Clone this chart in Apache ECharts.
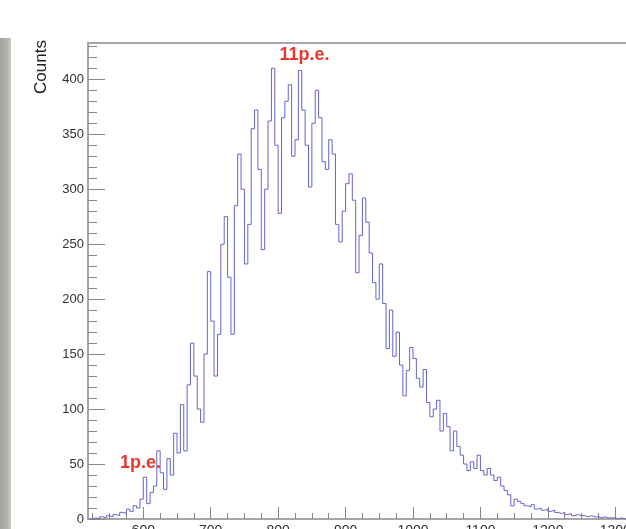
<!DOCTYPE html>
<html>
<head>
<meta charset="utf-8">
<script src="https://cdn.jsdelivr.net/npm/echarts@6/dist/echarts.min.js"></script>
<style>
  html, body { margin: 0; padding: 0; background: #ffffff; }
  #chart { width: 626px; height: 529px; }
</style>
</head>
<body>
<div id="chart"></div>
<script>
// Charge spectrum histogram: fixed-width ADC bins starting at binLow
const binLow = 520;
const binWidth = 5;
const counts = [
  0, 1, 0, 2, 1, 3, 2, 4, 3, 6, 5,
  9, 7, 12, 10,
  18, 38, 14, 24, 30, 62, 42, 27, 55, 40, 78, 60, 104,
  62, 122, 160, 130, 100, 88, 150, 225, 180, 130, 168, 250, 275, 220, 168, 285,
  332, 300, 232, 268, 355, 372, 318, 245, 300, 362, 410, 340, 278, 365, 380, 395, 330,
  345, 408, 372, 340, 302, 360, 390, 365, 325, 318, 345, 332, 268, 252, 280, 305, 314, 290, 224,
  258, 292, 270, 242, 215, 200, 232, 196, 155, 190, 148, 170, 140, 112, 135, 156, 146, 128, 120, 136,
  106, 93, 100, 108, 80, 96, 84, 62, 80, 66, 58, 50, 44, 52, 46, 58, 44, 40, 46, 40,
  35, 38, 30, 26, 22, 12, 18, 16, 14, 12, 11, 13, 9, 10, 8, 9, 7, 8, 6, 5,
  6, 4, 5, 3, 4, 3, 3, 2, 3, 2, 2, 1, 2, 1, 1, 1, 0, 1, 0, 0,
  0, 0, 0, 0, 0, 0
];

// Axis ranges and tick values
const xRange = [518, 1350];
const yRange = [0, 433];
const xMajorTicks = [600, 700, 800, 900, 1000, 1100, 1200, 1300];
const xMinorTicks = [525, 550, 575, 625, 650, 675, 725, 750, 775, 825, 850, 875,
  925, 950, 975, 1025, 1050, 1075, 1125, 1150, 1175, 1225, 1250, 1275, 1325];
const yMajorTicks = [0, 50, 100, 150, 200, 250, 300, 350, 400];
const yMinorTicks = [10, 20, 30, 40, 60, 70, 80, 90, 110, 120, 130, 140, 160, 170, 180, 190,
  210, 220, 230, 240, 260, 270, 280, 290, 310, 320, 330, 340, 360, 370, 380, 390,
  410, 420, 430];

// Peak annotations, placed in data coordinates
const peakNotes = [
  { text: '1p.e.', x: 596, y: 51 },
  { text: '11p.e.', x: 839, y: 422 }
];

// Step points: each bin drawn from its low edge, closed at the last high edge
const stepData = counts.map((c, i) => [binLow + i * binWidth, c]);
stepData.push([binLow + counts.length * binWidth, counts[counts.length - 1]]);

const FONT = "'Liberation Sans', Helvetica, Arial, sans-serif";
const AXIS_GRAY = '#a6a6a6';
const TICK_GRAY = '#8a8a8a';

const chart = echarts.init(document.getElementById('chart'), null, { renderer: 'canvas' });

const option = {
  animation: false,
  backgroundColor: '#ffffff',
  grid: {
    left: 88, top: 43, width: 561, height: 476,
    outerBoundsMode: 'none', containLabel: false,
    show: true, borderColor: AXIS_GRAY, borderWidth: 2, backgroundColor: 'transparent'
  },
  xAxis: [
    {
      type: 'value', min: xRange[0], max: xRange[1], position: 'bottom',
      axisLine: { show: true, onZero: false, lineStyle: { color: AXIS_GRAY, width: 2 } },
      axisTick: { show: true, inside: true, length: 12, customValues: xMajorTicks,
        lineStyle: { color: TICK_GRAY, width: 1 } },
      axisLabel: { show: true, customValues: xMajorTicks, margin: 5, color: '#333',
        fontFamily: FONT, fontSize: 14, formatter: v => String(v) },
      splitLine: { show: false }
    },
    {
      type: 'value', min: xRange[0], max: xRange[1], position: 'bottom',
      axisLine: { show: false },
      axisTick: { show: true, inside: true, length: 6, customValues: xMinorTicks,
        lineStyle: { color: TICK_GRAY, width: 1 } },
      axisLabel: { show: false },
      splitLine: { show: false }
    }
  ],
  yAxis: [
    {
      type: 'value', min: yRange[0], max: yRange[1], position: 'left',
      axisLine: { show: true, onZero: false, lineStyle: { color: AXIS_GRAY, width: 2 } },
      axisTick: { show: true, inside: true, length: 17, customValues: yMajorTicks,
        lineStyle: { color: TICK_GRAY, width: 1 } },
      axisLabel: { show: true, customValues: yMajorTicks, margin: 4, color: '#333',
        fontFamily: FONT, fontSize: 13, formatter: v => String(v) },
      splitLine: { show: false }
    },
    {
      type: 'value', min: yRange[0], max: yRange[1], position: 'left',
      axisLine: { show: false },
      axisTick: { show: true, inside: true, length: 9, customValues: yMinorTicks,
        lineStyle: { color: TICK_GRAY, width: 1 } },
      axisLabel: { show: false },
      splitLine: { show: false }
    }
  ],
  series: [
    {
      type: 'line',
      xAxisIndex: 0, yAxisIndex: 0,
      step: 'end',
      symbol: 'none',
      data: stepData,
      lineStyle: { color: '#6464d0', width: 1 },
      clip: true
    }
  ],
  graphic: [
    {
      id: 'band', type: 'rect', left: 0, top: 38, silent: true,
      shape: { width: 11, height: 491 },
      style: {
        fill: new echarts.graphic.LinearGradient(0, 0, 1, 0, [
          { offset: 0, color: '#a4a39f' },
          { offset: 0.6, color: '#b2b1ad' },
          { offset: 1, color: '#c9c8c4' }
        ])
      }
    },
    {
      id: 'ytitle', type: 'text', x: 41, y: 67, rotation: Math.PI / 2, silent: true,
      style: {
        text: 'Counts', fill: '#222', font: "17px 'Liberation Sans', Helvetica, Arial, sans-serif",
        align: 'center', verticalAlign: 'middle'
      }
    }
  ]
};

chart.setOption(option);

// Peak labels positioned through the chart's own axis scales
chart.setOption({
  graphic: peakNotes.map((n, i) => {
    const p = chart.convertToPixel({ xAxisIndex: 0, yAxisIndex: 0 }, [n.x, n.y]);
    return {
      id: 'note' + i, type: 'text', x: p[0], y: p[1], silent: true, z: 10,
      style: {
        text: n.text, fill: '#e8372c',
        font: "bold 18px 'Liberation Sans', Helvetica, Arial, sans-serif",
        align: 'center', verticalAlign: 'middle'
      }
    };
  })
});
</script>
</body>
</html>
